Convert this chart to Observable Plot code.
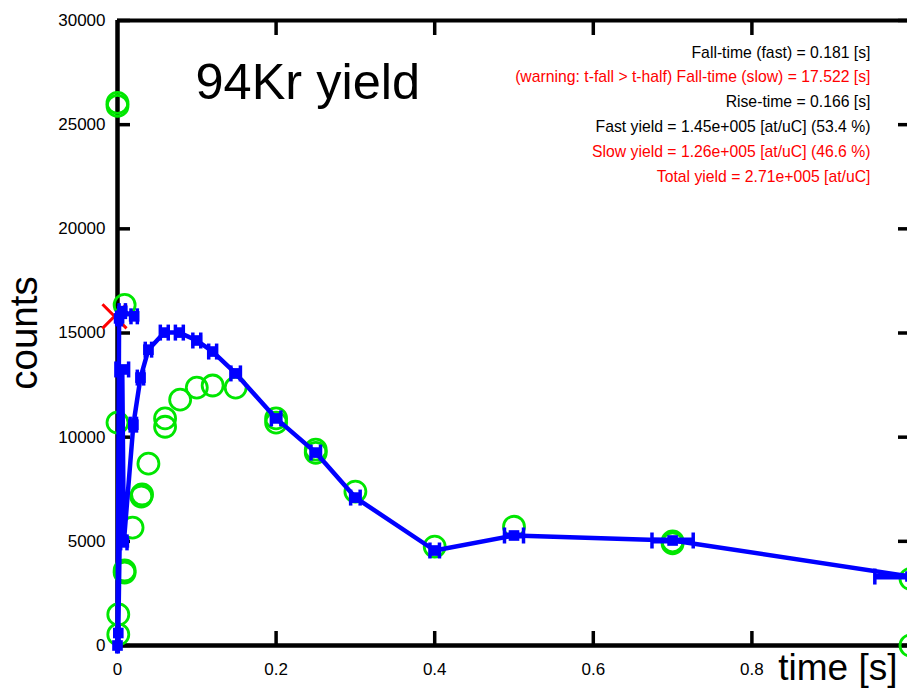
<!DOCTYPE html>
<html>
<head>
<meta charset="utf-8">
<script src="https://cdn.jsdelivr.net/npm/d3@7"></script>
<script src="https://cdn.jsdelivr.net/npm/@observablehq/plot@0.6"></script>
<style>
  html, body { margin: 0; padding: 0; background: white; }
</style>
</head>
<body>
<div id="chart"></div>
<script>
// Green circles (fit / reference points)
const greenTime   = [0.000, 0.000, 0.001, 0.001, 0.009, 0.009, 0.000, 0.009, 0.019, 0.030, 0.031, 0.039, 0.060, 0.060, 0.079, 0.100, 0.120, 0.149, 0.200, 0.200, 0.250, 0.250, 0.300, 0.400, 0.500, 0.700, 0.700, 1.000, 1.000];
const greenCounts = [26050, 25900, 530, 1490, 3500, 3600, 10700, 16350, 5660, 7150, 7250, 8730, 10900, 10500, 11800, 12380, 12480, 12380, 10900, 10700, 9400, 9250, 7390, 4750, 5700, 4900, 5000, 3200, 0];

// Blue measured points in drawing order (time, counts, time error)
const blueTime   = [0.021, 0.006, 0.002, 0.000, 0.001, 0.006, 0.008, 0.020, 0.029, 0.039, 0.059, 0.078, 0.100, 0.120, 0.149, 0.200, 0.250, 0.300, 0.400, 0.500, 0.700, 1.000];
const blueCounts = [15800, 16050, 15700, 0, 600, 13250, 4950, 10600, 12860, 14200, 15020, 15020, 14640, 14110, 13060, 10900, 9260, 7100, 4560, 5280, 5040, 3310];
const blueErr    = [0.004, 0.004, 0.003, 0.001, 0.001, 0.008, 0.004, 0.004, 0.004, 0.004, 0.005, 0.005, 0.005, 0.005, 0.006, 0.006, 0.006, 0.006, 0.006, 0.012, 0.026, 0.045];

// Red marker
const redTime = [0.000];
const redCounts = [15800];

const xTicks = [0, 0.2, 0.4, 0.6, 0.8];
const xInnerTicks = [0.2, 0.4, 0.6, 0.8];
const yTicks = [0, 5000, 10000, 15000, 20000, 25000, 30000];

const infoLines  = [
  "Fall-time (fast) = 0.181 [s]",
  "(warning: t-fall > t-half) Fall-time (slow) = 17.522 [s]",
  "Rise-time = 0.166 [s]",
  "Fast yield = 1.45e+005 [at/uC] (53.4 %)",
  "Slow yield = 1.26e+005 [at/uC] (46.6 %)",
  "Total yield = 2.71e+005 [at/uC]"
];
const infoColors = ["black", "red", "black", "black", "red", "red"];

const green = greenTime.map((t, i) => ({t, c: greenCounts[i]}));
const blue = blueTime.map((t, i) => ({t, c: blueCounts[i], e: blueErr[i]}));
const red = redTime.map((t, i) => ({t, c: redCounts[i]}));

const capSymbol = {
  draw(context, size) {
    const h = Math.sqrt(size / Math.PI);
    context.moveTo(0, -h);
    context.lineTo(0, h);
  }
};

const font = "'Liberation Sans', Arial, Helvetica, sans-serif";

const infoMarks = infoLines.map((line, i) => Plot.text([line], {
  frameAnchor: "top-right", textAnchor: "end", lineAnchor: "middle",
  dx: -40, dy: 32 + i * 24.8, fontSize: 15.75, fill: infoColors[i]
}));

const chart = Plot.plot({
  width: 907,
  height: 694,
  marginLeft: 117,
  marginRight: -3,
  marginTop: 20,
  marginBottom: 49,
  style: { fontFamily: font, background: "white", color: "black" },
  x: { domain: [0, 1] },
  y: { domain: [0, 30000] },
  marks: [
    // tick labels
    Plot.axisY(yTicks, { tickSize: 0, tickPadding: 12, fontSize: 17, label: null, tickFormat: d => String(d) }),
    Plot.axisX(xTicks, { tickSize: 0, tickPadding: 17, fontSize: 17, label: null, tickFormat: d => String(d) }),
    // inward ticks
    Plot.axisY(yTicks, { anchor: "left", tickSize: -13, strokeWidth: 3.5, text: null, label: null }),
    Plot.axisY(yTicks, { anchor: "right", tickSize: -13, strokeWidth: 3.5, text: null, label: null }),
    Plot.axisX(xInnerTicks, { anchor: "bottom", tickSize: -14, strokeWidth: 3.5, text: null, label: null }),
    Plot.axisX(xInnerTicks, { anchor: "top", tickSize: -14, strokeWidth: 3.5, text: null, label: null }),
    // frame
    Plot.ruleX([0], { stroke: "black", strokeWidth: 4.5 }),
    Plot.ruleY([0], { stroke: "black", strokeWidth: 4.5 }),
    Plot.ruleY([30000], { stroke: "black", strokeWidth: 4 }),
    // axis titles
    Plot.text(["counts"], { frameAnchor: "left", textAnchor: "middle", rotate: -90, dx: -93, fontSize: 38.5, lineAnchor: "middle" }),
    Plot.text(["time [s]"], { frameAnchor: "bottom-right", textAnchor: "end", lineAnchor: "middle", dx: -13, dy: 23, fontSize: 37 }),
    // title
    Plot.text(["94Kr yield"], { frameAnchor: "top-left", textAnchor: "start", lineAnchor: "middle", dx: 78, dy: 62, fontSize: 50.5 }),
    ...infoMarks,
    // red marker
    Plot.dot(red, { x: "t", y: "c", symbol: "times", r: 11, stroke: "red", strokeWidth: 3, dx: -3 }),
    // green circles
    Plot.dot(green, { x: "t", y: "c", r: 10.5, stroke: "#00e600", strokeWidth: 2.8, fill: "none" }),
    // blue line with error bars
    Plot.line(blue, { x: "t", y: "c", stroke: "#0000ff", strokeWidth: 4.5, curve: "linear" }),
    Plot.link(blue, { x1: d => d.t - d.e, x2: d => d.t + d.e, y1: "c", y2: "c", stroke: "#0000ff", strokeWidth: 6 }),
    Plot.dot(blue, { x: d => d.t - d.e, y: "c", symbol: capSymbol, r: 8, stroke: "#0000ff", strokeWidth: 3.5 }),
    Plot.dot(blue, { x: d => d.t + d.e, y: "c", symbol: capSymbol, r: 8, stroke: "#0000ff", strokeWidth: 3.5 }),
    Plot.dot(blue, { x: "t", y: "c", symbol: "square", r: 6, fill: "#0000ff" })
  ]
});
document.getElementById("chart").appendChild(chart);
</script>
</body>
</html>
